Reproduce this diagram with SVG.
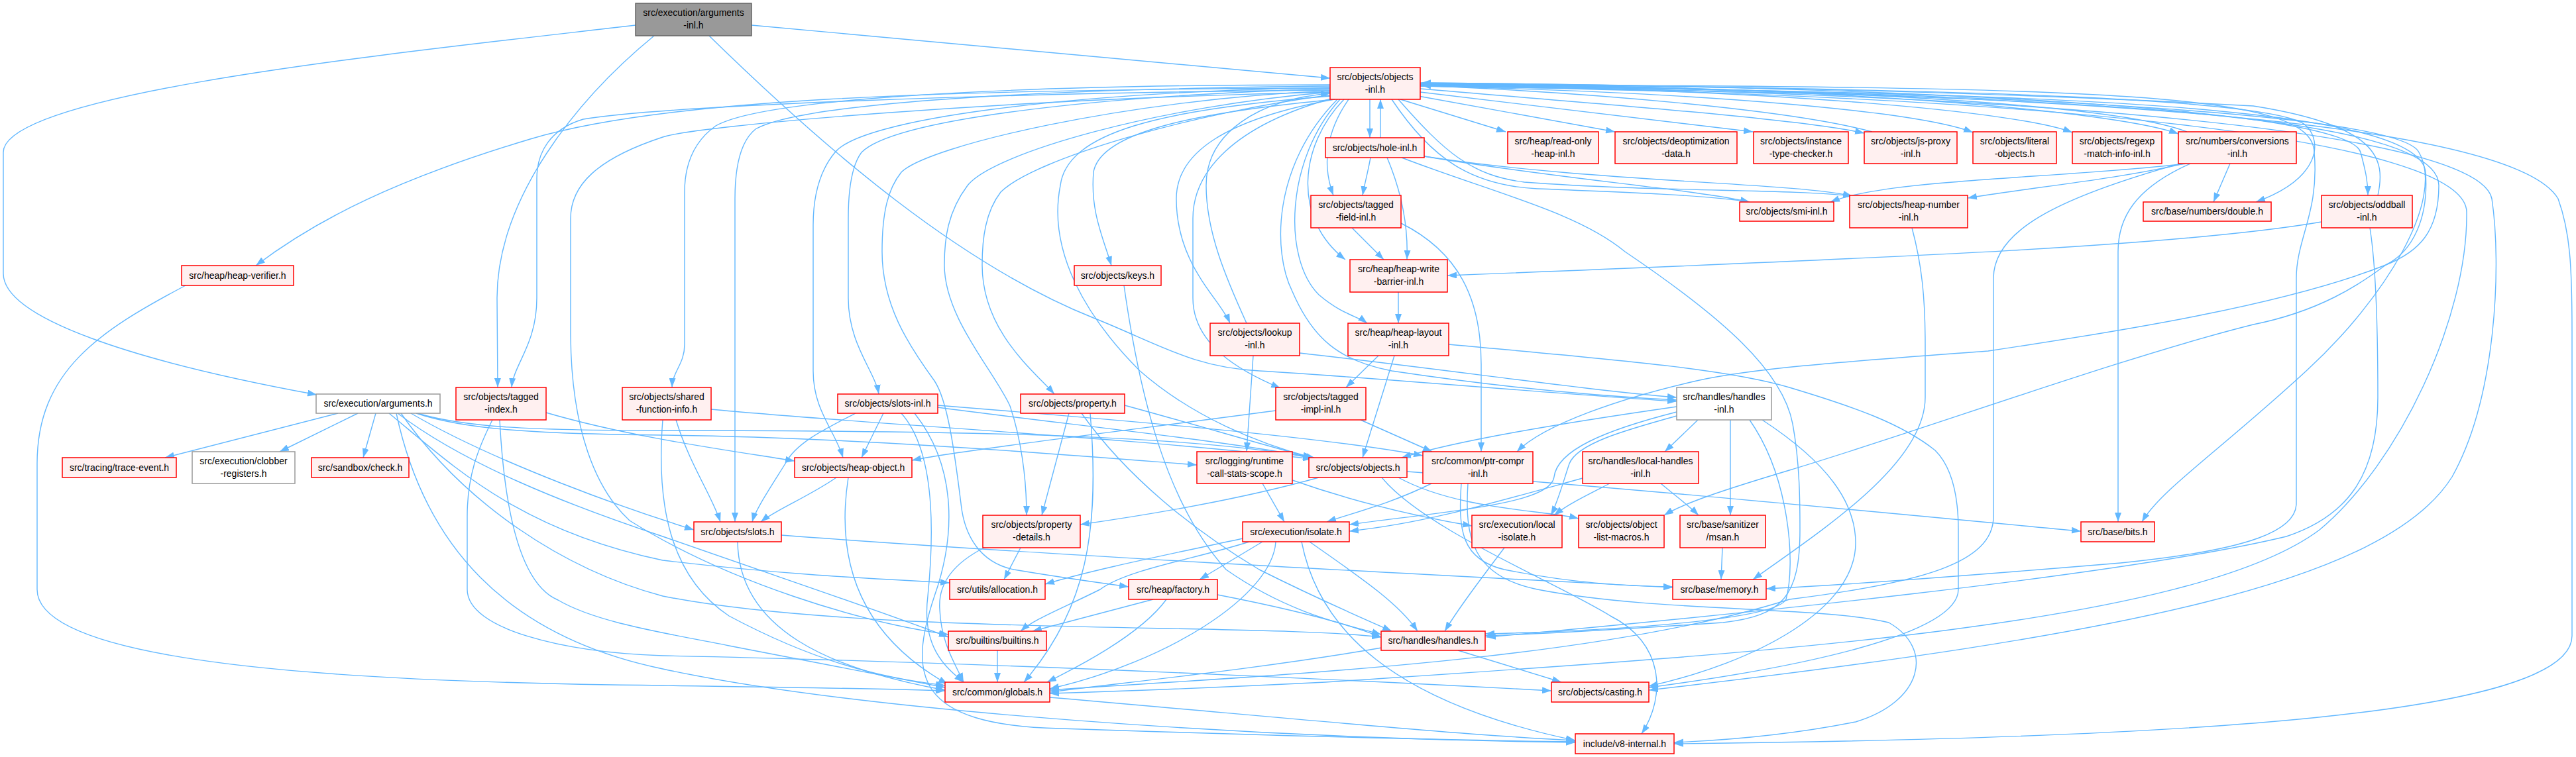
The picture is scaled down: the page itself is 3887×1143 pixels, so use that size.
<svg xmlns="http://www.w3.org/2000/svg" width="3887" height="1143" viewBox="0 0 3887 1143">
<style>
text{font-family:"Liberation Sans",Arial,sans-serif;font-size:14px;fill:#000;text-anchor:middle}
.t rect{fill:#fff0f0;stroke:#ff0000;stroke-width:1.5}
.r rect{fill:#999999;stroke:#666666;stroke-width:1.5}
.w rect{fill:#ffffff;stroke:#999999;stroke-width:1.5}
#edges path{fill:none;stroke:#63b8ff;stroke-width:1.4;marker-end:url(#a)}
</style>
<defs>
<marker id="a" viewBox="0 0 14 10" refX="14" refY="5" markerWidth="14" markerHeight="10" markerUnits="userSpaceOnUse" orient="auto"><path d="M0,0L14,5L0,10z" fill="#63b8ff"/></marker>
</defs>
<rect width="3887" height="1143" fill="#ffffff"/>
<g id="edges">
<path d="M1134,38 C1500,70 1800,100 2007,118"/>
<path d="M959,38 C600,80 5,140 5,230 L5,413 C5,480 200,545 478,596"/>
<path d="M987,54 C870,150 750,300 750,450 L751,585"/>
<path d="M1070,54 C1250,230 1450,400 1650,480 C1750,520 1800,555 1900,560 C2100,572 2350,595 2530,606"/>
<path d="M2007,133 C1400,135 1000,150 800,210 C600,270 480,330 386,401"/>
<path d="M2007,136 C1500,140 1000,160 880,180 C830,195 810,230 810,270 L810,450 C810,520 775,550 772,585"/>
<path d="M2007,139 C1500,150 1050,190 1000,207 C900,240 861,280 861,330 L861,500 C861,650 900,740 950,786 C1100,880 1300,940 1431,958"/>
<path d="M2007,128 C1500,128 1150,150 1080,190 C1045,215 1033,250 1033,290 L1033,520 C1033,550 1015,560 1014,585"/>
<path d="M2007,130 C1500,135 1200,160 1140,195 C1115,215 1109,260 1109,300 L1109,788"/>
<path d="M2007,132 C1600,140 1300,180 1260,230 C1235,260 1227,300 1227,340 L1227,560 C1227,620 1260,650 1272,691"/>
<path d="M2007,134 C1650,145 1350,180 1300,230 C1285,250 1280,290 1280,330 L1280,450 C1280,520 1320,560 1326,595"/>
<path d="M2007,137 C1700,150 1400,220 1360,260 C1340,285 1331,320 1331,380 C1331,460 1370,520 1410,575 C1430,605 1440,680 1450,760 C1455,810 1480,850 1530,860 C1600,872 1660,880 1703,886"/>
<path d="M2008,139 C1750,160 1500,230 1460,280 C1430,320 1425,360 1425,400 C1425,480 1500,560 1524,613 C1540,660 1549,720 1549,778"/>
<path d="M2010,143 C1800,170 1560,240 1510,290 C1487,320 1482,360 1482,400 C1482,500 1560,560 1591,595"/>
<path d="M2015,150 C1800,170 1660,200 1650,260 C1645,320 1665,360 1677,401"/>
<path d="M2013,150 C1850,180 1775,230 1775,300 C1775,400 1840,450 1856,488"/>
<path d="M1881,488 C1850,420 1820,350 1820,280 C1820,200 1900,150 2007,141"/>
<path d="M2012,148 C1860,190 1800,260 1800,330 L1800,450 C1800,520 1870,560 1932,586"/>
<path d="M2009,145 C1750,165 1610,200 1600,280 C1580,380 1640,480 1720,560 C1800,630 1900,670 1980,691"/>
<path d="M2035,150 C2000,200 1995,250 2012,295"/>
<path d="M2028,150 C1960,220 1950,330 2030,392"/>
<path d="M2022,150 C1940,240 1935,390 1990,445 C2025,475 2050,478 2063,488"/>
<path d="M2018,150 C1920,250 1920,380 1950,440 C1980,510 2020,545 2100,560 C2300,590 2450,600 2530,604"/>
<path d="M2067,150 L2067,208"/>
<path d="M2083,208 L2083,150"/>
<path d="M2113,150 L2272,199"/>
<path d="M2140,145 L2437,199"/>
<path d="M2143,139 L2645,199"/>
<path d="M2143,134 C2450,160 2720,180 2813,201"/>
<path d="M2825,199 C2700,165 2400,140 2145,129"/>
<path d="M2143,130 C2600,140 2900,170 2977,200"/>
<path d="M2143,128 C2700,135 3050,170 3127,200"/>
<path d="M2143,126 C2800,130 3200,170 3287,202"/>
<path d="M3300,199 C3200,160 2800,132 2145,127"/>
<path d="M2100,150 C2160,240 2220,280 2320,285 C2450,290 2580,295 2640,305"/>
<path d="M2110,150 C2180,230 2220,265 2300,275 C2500,290 2700,285 2795,296"/>
<path d="M2143,127 C3000,133 3440,150 3480,190 C3505,215 3500,270 3404,305"/>
<path d="M2143,125 C3000,132 3545,170 3562,230 C3570,260 3573,275 3573,295"/>
<path d="M3588,295 C3600,240 3590,190 3400,160 C3000,138 2500,128 2145,125"/>
<path d="M2143,127 C3000,138 3620,170 3650,230 C3690,300 3600,450 3480,560 C3350,680 3260,740 3232,788"/>
<path d="M2143,128 C3200,130 3490,140 3492,230 C3500,320 3465,360 3465,420 L3465,760 C3465,800 3400,830 3200,850 C2900,875 2750,885 2665,889"/>
<path d="M2143,129 C3000,140 3650,150 3660,260 C3665,330 3640,380 3600,400 C3450,460 3200,500 3000,530 C2800,545 2650,555 2560,575 C2450,600 2330,640 2289,682"/>
<path d="M2143,130 C3000,142 3680,160 3680,280 C3680,350 3650,380 3600,400 C3560,430 3500,470 3400,490 C3200,540 2900,650 2700,710 C2600,740 2540,760 2511,778"/>
<path d="M2143,129 C3100,140 3740,200 3760,300 C3775,400 3767,600 3700,720 C3600,880 3200,960 2488,1042"/>
<path d="M2143,128 C3300,140 3800,200 3860,300 C3878,350 3881,400 3881,500 L3881,960 C3881,1080 3300,1115 2526,1123"/>
<path d="M2143,130 C3100,142 3720,210 3722,320 C3724,480 3620,700 3500,800 C3300,950 2600,990 2000,1030 C1800,1040 1650,1045 1584,1047"/>
<path d="M2068,238 C2064,260 2059,278 2056,295"/>
<path d="M2093,238 C2115,290 2125,340 2123,392"/>
<path d="M2149,236 C2350,270 2550,285 2640,305"/>
<path d="M2149,236 C2400,275 2700,275 2795,296"/>
<path d="M2115,238 C2250,290 2380,320 2452,380 C2600,480 2690,560 2705,640 C2716,700 2716,760 2716,800 C2716,900 2690,930 2600,940 C2450,950 2300,958 2241,960"/>
<path d="M2040,344 L2088,392"/>
<path d="M2114,337 C2200,380 2235,450 2235,550 L2235,682"/>
<path d="M2110,441 L2110,488"/>
<path d="M3503,335 C3300,370 2900,388 2184,416"/>
<path d="M2080,537 L2031,585"/>
<path d="M2104,537 L2056,691"/>
<path d="M2186,520 C2400,540 2600,555 2700,585 C2800,615 2870,640 2920,680 C2950,710 2955,760 2955,800 L2955,890 C2955,960 2700,1010 2488,1038"/>
<path d="M1891,537 L1881,682"/>
<path d="M1961,533 C2200,560 2400,590 2530,600"/>
<path d="M1696,431 C1720,600 1760,760 1850,860 C1950,930 2040,945 2084,958"/>
<path d="M2053,634 L2161,682"/>
<path d="M1925,620 C1700,650 1450,680 1376,695"/>
<path d="M510,624 L249,691"/>
<path d="M540,624 L422,682"/>
<path d="M567,624 L548,691"/>
<path d="M587,624 C680,700 780,800 1000,846 C1200,870 1350,875 1433,880"/>
<path d="M600,624 C700,700 850,760 1000,810 C1200,880 1350,930 1431,962"/>
<path d="M628,624 C700,648 800,655 1000,657 C1300,660 1650,690 1806,702"/>
<path d="M630,624 C700,645 800,650 1000,650 C1400,650 1800,655 1980,692"/>
<path d="M620,624 C750,700 950,770 1047,800"/>
<path d="M605,624 C700,760 850,860 1000,900 C1300,960 1900,940 2084,962"/>
<path d="M598,624 C640,820 760,960 1000,1010 C1300,1075 1900,1115 2377,1121"/>
<path d="M280,431 C150,500 56,560 56,700 L56,890 C56,1000 500,1030 1000,1035 C1200,1038 1350,1040 1426,1043"/>
<path d="M824,623 C950,660 1100,680 1199,696"/>
<path d="M754,634 C760,750 780,880 842,906 C900,940 1000,955 1100,975 C1250,1005 1380,1030 1426,1038"/>
<path d="M743,634 C720,680 705,720 705,780 L705,890 C705,950 850,985 1000,990 C1500,1000 2100,1030 2341,1043"/>
<path d="M1073,618 C1300,640 1700,660 1980,693"/>
<path d="M1020,634 C1040,700 1075,750 1087,788"/>
<path d="M1000,634 C990,760 1010,870 1100,930 C1250,1010 1350,1025 1426,1035"/>
<path d="M1333,624 L1300,691"/>
<path d="M1291,624 C1240,650 1200,670 1185,700 C1160,740 1140,770 1135,788"/>
<path d="M1415,615 C1600,640 1850,665 1985,692"/>
<path d="M1415,612 C1700,635 2000,660 2147,688"/>
<path d="M1360,624 C1410,680 1410,800 1400,900 C1390,980 1430,1010 1454,1030"/>
<path d="M1380,624 C1440,700 1445,800 1410,900 C1370,1020 1380,1095 1600,1100 C1900,1110 2200,1118 2377,1120"/>
<path d="M1613,624 L1572,778"/>
<path d="M1645,624 C1660,800 1640,920 1545,1030"/>
<path d="M1632,624 C1700,720 1800,800 1900,860 C2000,910 2060,935 2100,953"/>
<path d="M1697,612 C1800,640 1900,670 1982,692"/>
<path d="M1540,827 L1515,875"/>
<path d="M1485,827 C1440,850 1415,880 1418,920 C1420,970 1440,1000 1454,1030"/>
<path d="M1262,721 C1220,750 1170,770 1148,788"/>
<path d="M1280,721 C1260,850 1300,960 1430,1033"/>
<path d="M1113,818 C1115,950 1250,1010 1426,1042"/>
<path d="M1179,808 C1600,840 2200,870 2524,887"/>
<path d="M1990,721 C1850,760 1700,782 1630,792"/>
<path d="M2123,712 C2500,740 2900,780 3140,802"/>
<path d="M2110,721 C2200,770 2330,770 2382,783"/>
<path d="M2085,721 C2150,800 2350,880 2430,930 C2510,970 2515,1050 2477,1108"/>
<path d="M1905,730 L1938,788"/>
<path d="M1950,725 C2050,760 2150,782 2221,794"/>
<path d="M1880,812 C1750,840 1650,860 1577,882"/>
<path d="M1905,818 L1810,875"/>
<path d="M1885,818 C1800,845 1700,860 1660,890 C1600,920 1560,935 1540,953"/>
<path d="M1925,818 C1920,900 1760,1000 1584,1040"/>
<path d="M1976,818 C2050,870 2110,910 2139,953"/>
<path d="M1964,818 C1990,950 2100,1060 2377,1118"/>
<path d="M2270,827 C2230,880 2200,920 2180,953"/>
<path d="M2429,730 C2390,750 2365,762 2345,778"/>
<path d="M2506,730 C2530,750 2550,765 2563,778"/>
<path d="M2388,722 C2250,760 2150,790 2036,802"/>
<path d="M2562,634 L2512,682"/>
<path d="M2611,634 L2611,778"/>
<path d="M2530,628 C2450,650 2380,670 2368,700 C2358,730 2350,760 2340,778"/>
<path d="M2530,622 C2420,650 2350,680 2345,720 C2340,760 2200,770 2036,792"/>
<path d="M2530,614 C2350,640 2200,665 2115,691"/>
<path d="M2640,634 C2700,720 2710,850 2695,905 C2680,935 2450,952 2241,957"/>
<path d="M2659,634 C2760,700 2800,760 2800,820 C2800,920 2650,1000 2488,1036"/>
<path d="M2160,730 C2100,760 2040,775 2002,788"/>
<path d="M2205,730 C2200,800 2205,845 2270,860 C2370,880 2450,885 2524,886"/>
<path d="M2215,730 C2210,810 2220,870 2320,890 C2500,925 2750,915 2850,940 C2920,980 2900,1060 2800,1090 C2700,1110 2600,1118 2526,1121"/>
<path d="M2599,827 L2597,875"/>
<path d="M1740,905 L1558,953"/>
<path d="M1760,905 C1720,960 1620,1010 1580,1030"/>
<path d="M1837,898 C1950,920 2030,940 2084,962"/>
<path d="M1505,982 L1505,1030"/>
<path d="M2200,982 L2356,1030"/>
<path d="M2085,978 C1900,1010 1700,1030 1584,1045"/>
<path d="M1584,1053 C1900,1080 2200,1110 2377,1118"/>
<path d="M3300,247 C3100,270 2850,270 2762,305"/>
<path d="M3295,247 C3200,270 3050,285 2969,299"/>
<path d="M3365,247 L3340,305"/>
<path d="M3305,247 C3220,285 3196,330 3196,380 L3196,788"/>
<path d="M3290,247 C3100,300 3008,350 3008,420 L3008,780 C3008,850 2900,880 2700,905 C2400,1000 1900,1020 1584,1042"/>
<path d="M2885,344 C2900,400 2905,450 2905,520 L2905,600 C2905,700 2750,800 2645,875"/>
<path d="M3576,344 C3585,400 3588,500 3588,600 C3588,720 3540,780 3450,810 C3200,870 2600,930 2243,962"/>
</g>
<g id="n1" class="r"><rect x="959" y="5" width="175" height="49"/><text x="1046.5" y="24">src/execution/arguments</text><text x="1046.5" y="43">-inl.h</text></g>
<g id="n2" class="t"><rect x="2007" y="102" width="136" height="48"/><text x="2075" y="121">src/objects/objects</text><text x="2075" y="140">-inl.h</text></g>
<g id="n3" class="t"><rect x="2000" y="208" width="149" height="30"/><text x="2074.5" y="228">src/objects/hole-inl.h</text></g>
<g id="n4" class="t"><rect x="2275" y="199" width="137" height="48"/><text x="2343.5" y="218">src/heap/read-only</text><text x="2343.5" y="237">-heap-inl.h</text></g>
<g id="n5" class="t"><rect x="2437" y="199" width="184" height="48"/><text x="2529" y="218">src/objects/deoptimization</text><text x="2529" y="237">-data.h</text></g>
<g id="n6" class="t"><rect x="2646" y="199" width="143" height="48"/><text x="2717.5" y="218">src/objects/instance</text><text x="2717.5" y="237">-type-checker.h</text></g>
<g id="n7" class="t"><rect x="2813" y="199" width="140" height="48"/><text x="2883" y="218">src/objects/js-proxy</text><text x="2883" y="237">-inl.h</text></g>
<g id="n8" class="t"><rect x="2977" y="199" width="126" height="48"/><text x="3040" y="218">src/objects/literal</text><text x="3040" y="237">-objects.h</text></g>
<g id="n9" class="t"><rect x="3127" y="199" width="135" height="48"/><text x="3194.5" y="218">src/objects/regexp</text><text x="3194.5" y="237">-match-info-inl.h</text></g>
<g id="n10" class="t"><rect x="3287" y="199" width="178" height="48"/><text x="3376" y="218">src/numbers/conversions</text><text x="3376" y="237">-inl.h</text></g>
<g id="n11" class="t"><rect x="1978" y="295" width="136" height="49"/><text x="2046" y="314">src/objects/tagged</text><text x="2046" y="333">-field-inl.h</text></g>
<g id="n12" class="t"><rect x="2625" y="305" width="142" height="29"/><text x="2696" y="324">src/objects/smi-inl.h</text></g>
<g id="n13" class="t"><rect x="2791" y="295" width="178" height="49"/><text x="2880" y="314">src/objects/heap-number</text><text x="2880" y="333">-inl.h</text></g>
<g id="n14" class="t"><rect x="3234" y="305" width="193" height="29"/><text x="3330.5" y="324">src/base/numbers/double.h</text></g>
<g id="n15" class="t"><rect x="3503" y="295" width="137" height="49"/><text x="3571.5" y="314">src/objects/oddball</text><text x="3571.5" y="333">-inl.h</text></g>
<g id="n16" class="t"><rect x="2037" y="392" width="147" height="49"/><text x="2110.5" y="411">src/heap/heap-write</text><text x="2110.5" y="430">-barrier-inl.h</text></g>
<g id="n17" class="t"><rect x="2034" y="488" width="152" height="49"/><text x="2110" y="507">src/heap/heap-layout</text><text x="2110" y="526">-inl.h</text></g>
<g id="n18" class="t"><rect x="1826" y="488" width="135" height="49"/><text x="1893.5" y="507">src/objects/lookup</text><text x="1893.5" y="526">-inl.h</text></g>
<g id="n19" class="t"><rect x="1621" y="401" width="131" height="30"/><text x="1686.5" y="421">src/objects/keys.h</text></g>
<g id="n20" class="t"><rect x="1925" y="585" width="136" height="49"/><text x="1993" y="604">src/objects/tagged</text><text x="1993" y="623">-impl-inl.h</text></g>
<g id="n21" class="w"><rect x="2530" y="585" width="143" height="49"/><text x="2601.5" y="604">src/handles/handles</text><text x="2601.5" y="623">-inl.h</text></g>
<g id="n22" class="t"><rect x="939" y="585" width="134" height="49"/><text x="1006" y="604">src/objects/shared</text><text x="1006" y="623">-function-info.h</text></g>
<g id="n23" class="t"><rect x="1264" y="595" width="151" height="29"/><text x="1339.5" y="614">src/objects/slots-inl.h</text></g>
<g id="n24" class="t"><rect x="1540" y="595" width="157" height="29"/><text x="1618.5" y="614">src/objects/property.h</text></g>
<g id="n25" class="t"><rect x="688" y="585" width="136" height="49"/><text x="756" y="604">src/objects/tagged</text><text x="756" y="623">-index.h</text></g>
<g id="n26" class="w"><rect x="477" y="595" width="187" height="29"/><text x="570.5" y="614">src/execution/arguments.h</text></g>
<g id="n27" class="t"><rect x="274" y="401" width="169" height="30"/><text x="358.5" y="421">src/heap/heap-verifier.h</text></g>
<g id="n28" class="t"><rect x="94" y="691" width="172" height="30"/><text x="180" y="711">src/tracing/trace-event.h</text></g>
<g id="n29" class="w"><rect x="290" y="682" width="155" height="48"/><text x="367.5" y="701">src/execution/clobber</text><text x="367.5" y="720">-registers.h</text></g>
<g id="n30" class="t"><rect x="470" y="691" width="147" height="30"/><text x="543.5" y="711">src/sandbox/check.h</text></g>
<g id="n31" class="t"><rect x="1199" y="691" width="177" height="30"/><text x="1287.5" y="711">src/objects/heap-object.h</text></g>
<g id="n32" class="t"><rect x="1806" y="682" width="144" height="48"/><text x="1878" y="701">src/logging/runtime</text><text x="1878" y="720">-call-stats-scope.h</text></g>
<g id="n33" class="t"><rect x="1975" y="691" width="148" height="30"/><text x="2049" y="711">src/objects/objects.h</text></g>
<g id="n34" class="t"><rect x="2147" y="682" width="166" height="48"/><text x="2230" y="701">src/common/ptr-compr</text><text x="2230" y="720">-inl.h</text></g>
<g id="n35" class="t"><rect x="2388" y="682" width="175" height="48"/><text x="2475.5" y="701">src/handles/local-handles</text><text x="2475.5" y="720">-inl.h</text></g>
<g id="n36" class="t"><rect x="1047" y="788" width="132" height="30"/><text x="1113" y="808">src/objects/slots.h</text></g>
<g id="n37" class="t"><rect x="1483" y="778" width="147" height="49"/><text x="1556.5" y="797">src/objects/property</text><text x="1556.5" y="816">-details.h</text></g>
<g id="n38" class="t"><rect x="1875" y="788" width="161" height="30"/><text x="1955.5" y="808">src/execution/isolate.h</text></g>
<g id="n39" class="t"><rect x="2221" y="778" width="136" height="49"/><text x="2289" y="797">src/execution/local</text><text x="2289" y="816">-isolate.h</text></g>
<g id="n40" class="t"><rect x="2382" y="778" width="129" height="49"/><text x="2446.5" y="797">src/objects/object</text><text x="2446.5" y="816">-list-macros.h</text></g>
<g id="n41" class="t"><rect x="2535" y="778" width="129" height="49"/><text x="2599.5" y="797">src/base/sanitizer</text><text x="2599.5" y="816">/msan.h</text></g>
<g id="n42" class="t"><rect x="3140" y="788" width="111" height="30"/><text x="3195.5" y="808">src/base/bits.h</text></g>
<g id="n43" class="t"><rect x="1433" y="875" width="144" height="30"/><text x="1505" y="895">src/utils/allocation.h</text></g>
<g id="n44" class="t"><rect x="1703" y="875" width="134" height="30"/><text x="1770" y="895">src/heap/factory.h</text></g>
<g id="n45" class="t"><rect x="2524" y="875" width="141" height="30"/><text x="2594.5" y="895">src/base/memory.h</text></g>
<g id="n46" class="t"><rect x="1431" y="953" width="148" height="29"/><text x="1505" y="972">src/builtins/builtins.h</text></g>
<g id="n47" class="t"><rect x="2084" y="953" width="157" height="29"/><text x="2162.5" y="972">src/handles/handles.h</text></g>
<g id="n48" class="t"><rect x="1426" y="1030" width="158" height="30"/><text x="1505" y="1050">src/common/globals.h</text></g>
<g id="n49" class="t"><rect x="2341" y="1030" width="147" height="30"/><text x="2414.5" y="1050">src/objects/casting.h</text></g>
<g id="n50" class="t"><rect x="2377" y="1108" width="149" height="30"/><text x="2451.5" y="1128">include/v8-internal.h</text></g>
</svg>
